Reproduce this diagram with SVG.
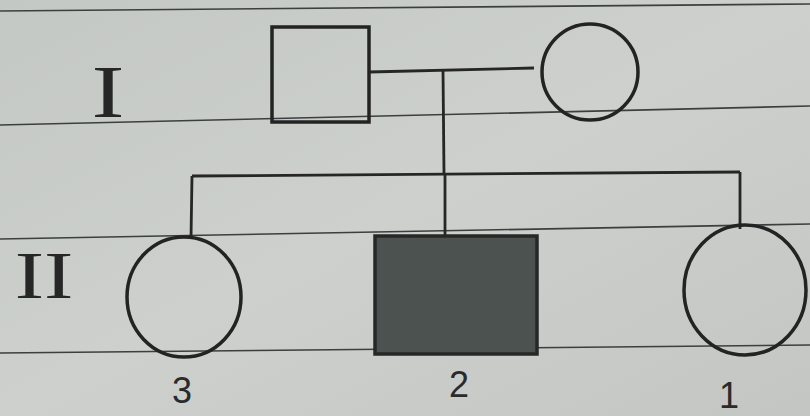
<svg xmlns="http://www.w3.org/2000/svg" width="810" height="416" viewBox="0 0 810 416">
  <style>
    .rule { stroke: #3b3f40; stroke-width: 1.6; fill: none; }
    .sym { stroke: #232323; stroke-width: 3.5; fill: none; }
    .conn { stroke: #262626; stroke-width: 2.8; fill: none; }
    .roman { font-family: "Liberation Serif", serif; fill: #262626; }
    .num { font-family: "Liberation Sans", sans-serif; font-size: 36px; fill: #2a2a2a; }
  </style>
  <defs>
    <linearGradient id="paper" x1="0" y1="0" x2="1" y2="1">
      <stop offset="0" stop-color="#c4c8c5"/>
      <stop offset="0.5" stop-color="#cdd0cc"/>
      <stop offset="1" stop-color="#c3c6c2"/>
    </linearGradient>
  </defs>
  <rect width="810" height="416" fill="url(#paper)"/>
  <g id="ruled-lines">
    <line class="rule" x1="0" y1="11" x2="810" y2="4"/>
    <line class="rule" x1="0" y1="125" x2="810" y2="106"/>
    <line class="rule" x1="0" y1="239" x2="810" y2="224"/>
    <line class="rule" x1="0" y1="353" x2="810" y2="345"/>
  </g>
  <g id="connectors">
    <polyline class="conn" points="369,72 534,68"/>
    <line class="conn" x1="443" y1="70" x2="444" y2="174"/>
    <line class="conn" x1="192" y1="176" x2="740" y2="172"/>
    <line class="conn" x1="192" y1="176" x2="191" y2="238"/>
    <line class="conn" x1="445" y1="174" x2="445" y2="236"/>
    <line class="conn" x1="740" y1="172" x2="740" y2="229"/>
  </g>
  <g id="gen-I-label"><text class="roman" font-size="45" text-anchor="middle" transform="translate(108,117) scale(2.2,1.65)">I</text></g>
  <g id="gen-II-label"><text class="roman" font-size="42" text-anchor="middle" transform="translate(44,298) scale(2.1,1.6)">II</text></g>
  <g id="I-1-father"><rect class="sym" x="272" y="27" width="97" height="95"/></g>
  <g id="I-2-mother"><ellipse class="sym" cx="590" cy="72" rx="48" ry="48"/></g>
  <g id="II-3"><ellipse class="sym" cx="184" cy="297" rx="57" ry="60"/>
    <text class="num" x="182" y="403" text-anchor="middle">3</text></g>
  <g id="II-2-affected"><rect x="375" y="236" width="162" height="118" fill="#4c5250" stroke="#262828" stroke-width="3.5"/>
    <text class="num" x="459" y="397" text-anchor="middle">2</text></g>
  <g id="II-1"><ellipse class="sym" cx="745" cy="290" rx="61" ry="65"/>
    <text class="num" x="729" y="408" text-anchor="middle">1</text></g>
</svg>
